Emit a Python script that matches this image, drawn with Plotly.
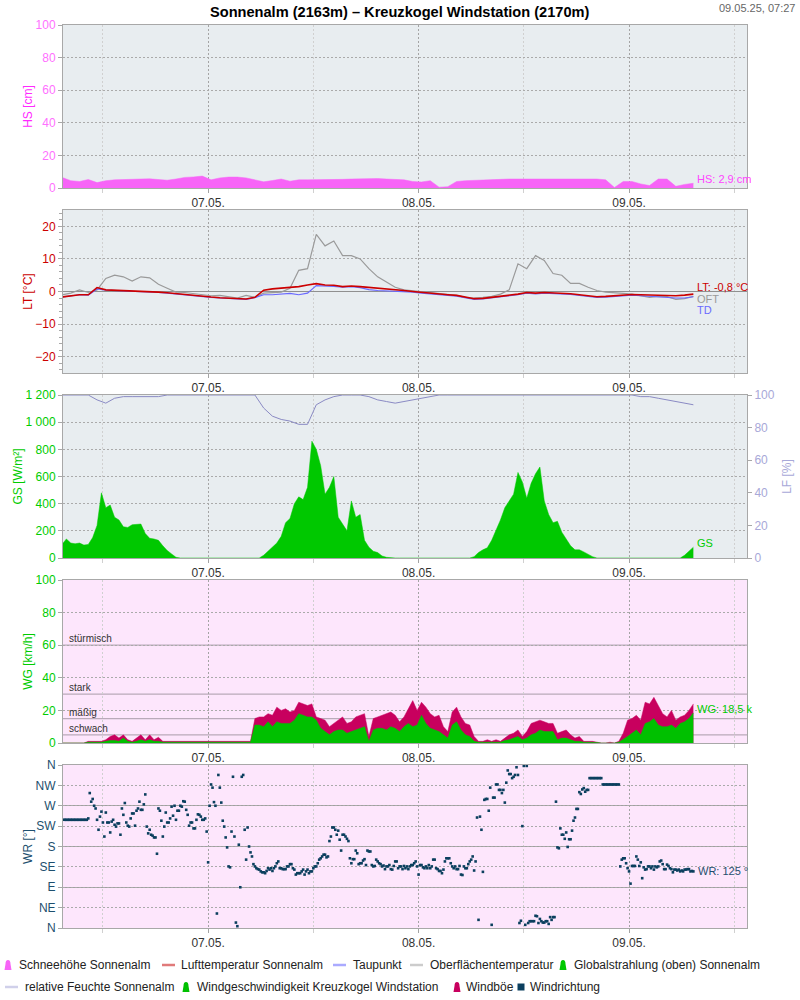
import pandas as pd
import plotly.graph_objects as go

FONT = "Liberation Sans, Arial, sans-serif"

# ---------------- time bases ----------------
t_hour = pd.date_range("2025-05-06 07:20", periods=73, freq="h")
t_half = pd.date_range("2025-05-06 07:20", periods=145, freq="30min")
t_wr = pd.date_range("2025-05-06 07:30", periods=432, freq="10min")

day_ticks = ["2025-05-07", "2025-05-08", "2025-05-09"]
day_labels = ["07.05.", "08.05.", "09.05."]
x_range = ["2025-05-06 07:27", "2025-05-09 13:27"]

# ---------------- data ----------------
hs = [6.5, 4.5, 4.0, 5.2, 3.3, 4.5, 5.0, 5.3, 5.2, 5.5,
      5.6, 5.3, 4.8, 5.5, 6.5, 6.8, 7.3, 5.0, 6.2, 6.7,
      6.7, 6.2, 5.0, 3.8, 4.6, 5.5, 4.2, 5.0, 5.0, 5.0,
      5.0, 5.0, 5.3, 5.5, 5.7, 6.0, 5.8, 5.5, 5.2, 5.0,
      4.0, 3.7, 4.5, 0.5, 0.8, 4.0, 4.5, 4.8, 5.0, 5.0,
      5.3, 5.5, 5.5, 5.5, 5.7, 5.7, 5.7, 5.7, 5.8, 5.5,
      5.6, 5.5, 5.0, 0.3, 4.0, 4.0, 2.5, 1.5, 5.5, 5.5,
      1.0, 2.2, 2.9]

lt = [-1.7, -1.3, -1.0, -1.0, 1.2, 0.5, 0.4, 0.3, 0.3, 0.2,
      0.0, -0.2, -0.4, -0.7, -1.0, -1.3, -1.5, -1.7, -1.9, -2.1,
      -2.3, -2.3, -1.8, 0.4, 0.8, 1.0, 1.2, 1.5, 2.0, 2.4,
      2.0, 1.9, 1.5, 1.7, 1.5, 1.3, 1.0, 0.8, 0.6, 0.3,
      0.0, -0.3, -0.6, -0.8, -1.0, -1.2, -1.8, -2.2, -2.1, -1.8,
      -1.5, -1.2, -0.8, -0.3, -0.5, -0.3, -0.4, -0.4, -0.7, -1.0,
      -1.4, -1.6, -1.5, -1.3, -1.1, -0.9, -1.0, -1.1, -1.3, -1.2,
      -1.3, -1.1, -0.8]

td = [-1.7, -1.3, -1.0, -1.1, 0.8, 0.4, 0.3, 0.2, 0.2, 0.1,
      -0.1, -0.3, -0.5, -0.8, -1.1, -1.4, -1.6, -1.8, -2.0, -2.2,
      -2.4, -2.4, -1.9, -1.0, -1.0, -0.9, -0.6, -1.0, -0.5, 1.8,
      1.8, 1.6, 1.3, 1.5, 1.2, 0.6, 0.3, 0.2, 0.0, -0.1,
      -0.2, -0.5, -0.8, -1.0, -1.2, -1.4, -2.0, -2.4, -2.3, -2.0,
      -1.7, -1.4, -1.0, -0.5, -0.7, -0.5, -0.6, -0.6, -0.9, -1.2,
      -1.6, -1.8, -1.7, -1.5, -1.3, -1.1, -1.3, -1.5, -1.6, -1.7,
      -2.0, -2.0, -1.6]

oft = [-1.0, -0.5, 0.5, -0.3, 0.5, 4.0, 5.0, 4.5, 3.2, 4.5,
       4.2, 2.2, 1.0, -0.2, -0.3, -0.7, -1.0, -1.3, -1.2, -1.5,
       -2.0, -1.2, -1.8, -0.5, -0.3, -0.2, 1.0, 6.5, 7.0, 17.5,
       14.0, 15.5, 11.0, 11.0, 10.0, 7.0, 4.5, 2.8, 1.3, 0.5,
       0.2, -0.2, -0.5, -0.8, -0.9, -1.2, -1.8, -2.0, -1.8, -1.5,
       -0.8, 0.5, 8.5, 7.0, 11.0, 9.5, 5.5, 5.0, 2.5, 2.5,
       1.3, 0.3, -0.2, -0.5, -0.6, -0.8, -1.2, -1.8, -1.5, -1.6,
       -2.4, -2.2, -1.5]

lf = [100, 100, 100, 100, 97, 95, 98, 99, 99, 99,
      99, 99, 100, 100, 100, 100, 100, 100, 100, 100,
      100, 100, 100, 92, 87, 85, 84, 82, 82, 94,
      97, 99, 100, 100, 100, 99, 97, 96, 95, 96,
      97, 98, 99, 100, 100, 100, 100, 100, 100, 100,
      100, 100, 100, 100, 100, 100, 100, 100, 100, 100,
      100, 100, 100, 100, 100, 100, 99, 99, 98, 97,
      96, 95, 94]

gs = [100, 140, 110, 105, 110, 95, 100, 150, 240, 480,
      370, 390, 300, 280, 230, 225, 245, 245, 250, 180,
      145, 140, 130, 90, 55, 30, 5,
      0, 0, 0, 0, 0, 0, 0, 0, 0, 0, 0, 0, 0, 0, 0, 0, 0, 0, 0,
      20, 50, 80, 110, 160, 260, 290, 400, 450, 430,
      520, 860, 800, 680, 470, 520, 600, 300, 250, 200,
      420, 300, 320, 130, 80, 50, 40, 15, 5,
      0, 0, 0, 0, 0, 0, 0, 0, 0, 0, 0, 0, 0, 0, 0, 0, 0, 0, 0,
      10, 40, 60, 75, 130, 200, 280, 370, 420, 470,
      630, 560, 440, 550, 620, 670, 420, 320, 260, 270,
      190, 140, 90, 60, 60, 45, 25, 10,
      0, 0, 0, 0, 0, 0, 0, 0, 0, 0, 0, 0, 0, 0, 0, 0, 0, 0, 0, 0,
      20, 50, 80]

wb = [0, 0, 0, 0, 0, 0,
      1, 1, 1, 1, 2, 4, 5, 3, 5, 2, 1, 3, 5, 2, 5, 2, 3.5, 1,
      1, 1, 1, 1, 1, 1, 1, 1, 1, 1, 1, 1, 1, 1, 1, 1, 1, 1, 1, 1,
      15, 16, 16, 18, 17, 22, 20, 21, 19, 20, 25, 24, 23, 24, 16, 15, 14,
      10, 12, 14, 16, 12, 13, 16, 17, 18, 4, 15, 16, 17, 18, 19, 17,
      13, 16, 21, 26, 20, 25, 22, 18, 16, 17, 10, 7, 19, 22, 16, 12, 11,
      4, 1, 1, 2, 1, 2, 1, 3, 5, 6, 8, 4, 7, 12, 13, 14, 13, 12, 12, 6,
      7, 8, 5, 3, 4, 1, 1, 1, 0.5, 0, 0, 0.5, 0, 1, 6, 14, 15, 17, 14,
      25, 24, 28, 23, 18, 16, 20, 14, 16, 17, 20, 24]

wg = [0, 0, 0, 0, 0, 0,
      0.5, 0.5, 0.5, 0.5, 1, 1.5, 1.5, 1, 3, 1, 0.5, 1, 2, 1, 2, 1, 1, 0.5,
      0.5, 0.5, 0.5, 0.5, 0.5, 0.5, 0.5, 0.5, 0.5, 0.5,
      0.5, 0.5, 0.5, 0.5, 0.5, 0.5, 0.5, 0.5, 0.5, 0.5,
      11, 11, 10, 13, 10, 13, 12, 12, 12, 14, 18, 17, 16, 16, 14, 9, 7,
      5, 7, 8, 8, 6, 7, 8, 9, 10, 1, 8, 9, 9, 8, 10, 9,
      7, 10, 12, 10, 11, 17, 12, 9, 8, 7, 5, 3, 11, 13, 8, 5, 4,
      1, 0.5, 0.5, 0.5, 0.5, 0.5, 0.5, 1.5, 2, 3, 4, 2, 3, 5, 6, 8, 7,
      7, 7, 2, 3, 3, 2, 1, 1, 0.5, 0.5, 0.5, 0.3, 0, 0, 0.3, 0, 0.5, 2,
      4, 6, 8, 5, 12, 13, 15, 11, 10, 10, 11, 9, 12, 13, 15, 18.5]

wr = [239, 239, 239, 239, 239, 239,
      239, 239, 239, 239, 239, 239,
      239, 239, 239, 239, 239, 242,
      298, 279, 285, 270, 264, 239,
      217, 246, 257, 233, 202, 255,
      233, 233, 211, 235, 239, 228,
      224, 231, 231, 206, 264, 250,
      276, 233, 226, 224, 242, 253,
      253, 226, 259, 264, 279, 261,
      261, 273, 295, 224, 209, 217,
      206, 204, 200, 200, 164, 264,
      259, 237, 202, 224, 255, 233,
      233, 242, 268, 248, 270, 239,
      259, 259, 270, 268, 280, 279,
      261, 250, 226, 233, 233, 220,
      220, 239, 251, 250, 246, 239,
      239, 242, 213, 145, 270, 317,
      310, 278, 270, 32, 338, 310,
      277, 237, 224, 200, 178, 136,
      134, 213, 334, 202, 12, 4,
      184, 90, 334, 338, 217, 151,
      222, 180, 167, 158, 141, 136,
      132, 130, 129, 125, 123, 123,
      121, 126, 132, 129, 132, 126,
      132, 136, 143, 147, 132, 132,
      130, 130, 130, 136, 136, 141,
      141, 132, 129, 118, 121, 121,
      121, 125, 129, 118, 125, 129,
      121, 125, 125, 132, 136, 136,
      143, 151, 154, 158, 162, 162,
      156, 158, 192, 202, 222, 222,
      217, 206, 215, 195, 171, 206,
      206, 202, 197, 192, 154, 143,
      152, 152, 171, 165, 141, 143,
      143, 149, 152, 139, 171, 169,
      169, 139, 136, 137, 151, 147,
      143, 141, 136, 138, 130, 136,
      136, 139, 130, 129, 137, 147,
      147, 132, 136, 136, 130, 137,
      132, 136, 130, 136, 139, 139,
      143, 147, 136, 118, 139, 139,
      134, 132, 136, 132, 139, 132,
      136, 151, 151, 132, 130, 126,
      126, 121, 129, 147, 154, 154,
      154, 143, 136, 132, 136, 130,
      130, 137, 118, 117, 136, 132,
      132, 141, 147, 151, 158, 127,
      147, 244, 18, 246, 217, 124,
      283, 285, 285, 259, 310, 7,
      288, 288, 317, 317, 305, 305,
      298, 305, 277, 321, 348, 340,
      340, 331, 334, 338, 355, 338,
      11, 16, 225, 358, 7, 358,
      11, 15, 15, 15, 15, 27,
      26, 11, 20, 15, 12, 12,
      15, 15, 9, 24, 18, 24,
      24, 279, 178, 176, 220, 206,
      206, 197, 211, 179, 196, 196,
      215, 237, 244, 263, 263, 300,
      296, 306, 309, 301, 305, 305,
      331, 331, 331, 331, 331, 331,
      331, 331, 331, 317, 317, 317,
      317, 317, 317, 317, 317, 317,
      317, 317, 317, 136, 151, 154,
      154, 143, 132, 125, 98, 137,
      137, 137, 158, 151, 137, 145,
      110, 134, 129, 130, 136, 136,
      132, 136, 129, 136, 134, 136,
      147, 149, 141, 130, 130, 140,
      137, 132, 130, 123, 129, 129,
      127, 129, 125, 127, 125, 129,
      129, 130, 130, 125, 126, 125]

wind_levels = [5, 15, 30, 60]
wind_level_names = ["schwach", "mäßig", "stark", "stürmisch"]
dir_vals = [0, 45, 90, 135, 180, 225, 270, 315, 360]
dir_names = ["N", "NE", "E", "SE", "S", "SW", "W", "NW", "N"]

assert len(hs) == len(lt) == len(td) == len(oft) == len(lf) == 73
assert len(gs) == len(wb) == len(wg) == 145, (len(gs), len(wb), len(wg))
assert len(wr) == 432, len(wr)

# ---------------- colours ----------------
C_HS = "#f764f7"
C_LT = "#cc0000"
C_TD = "#6a6aff"
C_OFT = "#9a9a9a"
C_GS = "#00c800"
C_LF = "#8a8ac4"
C_WG = "#00c000"
C_WB = "#c8005e"
C_WR = "#0b3f5e"
BG_GRAY = "#e8edf0"
BG_PINK = "#fde6fc"
DASH = "2px,2px"

fig = go.Figure()

# panel 1
fig.add_trace(go.Scatter(x=t_hour, y=hs, mode="lines", fill="tozeroy",
                         line=dict(color=C_HS, width=0.5), fillcolor=C_HS,
                         xaxis="x", yaxis="y", name="Schneehöhe Sonnenalm"))
# panel 2
fig.add_trace(go.Scatter(x=t_hour, y=oft, mode="lines", line=dict(color=C_OFT, width=1.2),
                         xaxis="x2", yaxis="y2", name="Oberflächentemperatur"))
fig.add_trace(go.Scatter(x=t_hour, y=td, mode="lines", line=dict(color=C_TD, width=1.2),
                         xaxis="x2", yaxis="y2", name="Taupunkt"))
fig.add_trace(go.Scatter(x=t_hour, y=lt, mode="lines", line=dict(color=C_LT, width=1.6),
                         xaxis="x2", yaxis="y2", name="Lufttemperatur Sonnenalm"))
# panel 3
fig.add_trace(go.Scatter(x=t_half, y=gs, mode="lines", fill="tozeroy",
                         line=dict(color=C_GS, width=0.5), fillcolor=C_GS,
                         xaxis="x3", yaxis="y3", name="Globalstrahlung (oben) Sonnenalm"))
fig.add_trace(go.Scatter(x=t_hour, y=lf, mode="lines", line=dict(color=C_LF, width=1),
                         xaxis="x3", yaxis="y6", name="relative Feuchte Sonnenalm"))
# panel 4
fig.add_trace(go.Scatter(x=t_half, y=wb, mode="lines", fill="tozeroy",
                         line=dict(color=C_WB, width=0.5), fillcolor=C_WB,
                         xaxis="x4", yaxis="y4", name="Windböe"))
fig.add_trace(go.Scatter(x=t_half, y=wg, mode="lines", fill="tozeroy",
                         line=dict(color=C_WG, width=0.5), fillcolor=C_WG,
                         xaxis="x4", yaxis="y4", name="Windgeschwindigkeit Kreuzkogel Windstation"))
# panel 5
fig.add_trace(go.Scatter(x=t_wr, y=wr, mode="markers",
                         marker=dict(symbol="square", size=2.6, color=C_WR, line=dict(width=0)),
                         xaxis="x5", yaxis="y5", name="Windrichtung"))

X_DOM = [63 / 800, 747 / 800]
Y_DOMS = [[0.812, 0.975], [0.627, 0.790], [0.442, 0.605], [0.257, 0.420], [0.072, 0.235]]

layout = dict(
    width=800, height=1000, autosize=False,
    margin=dict(l=0, r=0, t=0, b=0, pad=0, autoexpand=False),
    paper_bgcolor="white", plot_bgcolor=BG_GRAY,
    showlegend=False, hovermode=False,
    separators=", ",
    font=dict(family=FONT, size=12, color="#333"),
)

for i in range(1, 6):
    key = "xaxis" if i == 1 else f"xaxis{i}"
    layout[key] = dict(
        domain=X_DOM, range=x_range, type="date", anchor="y" if i == 1 else f"y{i}",
        tickmode="array", tickvals=day_ticks, ticktext=day_labels,
        showgrid=True, gridcolor="#a4a4a4", griddash=DASH, gridwidth=1,
        minor=dict(dtick=12 * 3600 * 1000, tick0="2025-05-06 00:00", showgrid=True,
                   gridcolor="#d0d0d0", griddash=DASH, gridwidth=1,
                   ticks="outside", ticklen=4, tickcolor="#d0d0d0"),
        showline=True, mirror=True, linecolor="#a8a8a8", linewidth=1,
        ticks="outside", ticklen=4, tickcolor="#a4a4a4",
        tickfont=dict(size=12, color="#333", family=FONT),
        zeroline=False, fixedrange=True, automargin=False,
    )

def yax(i, rng, title, tcol, lcol, **kw):
    d = dict(domain=Y_DOMS[i - 1], range=rng, anchor="x" if i == 1 else f"x{i}",
             showgrid=True, gridcolor="#aaaaaa", griddash=DASH, gridwidth=1,
             showline=True, mirror=True, linecolor="#a8a8a8", linewidth=1,
             ticks="outside", ticklen=4, tickcolor="#a8a8a8",
             tickfont=dict(size=12, color=lcol, family=FONT),
             title=dict(text=title, font=dict(size=12, color=tcol, family=FONT), standoff=0),
             zeroline=False, fixedrange=True, automargin=False)
    d.update(kw)
    return d

layout["yaxis"] = yax(1, [0, 100], "HS [cm]", "#ff2aff", "#ff70ff", dtick=20)
layout["yaxis2"] = yax(2, [-25, 25], "LT [°C]", C_LT, C_LT, dtick=10,
                       zeroline=True, zerolinecolor="#909090", zerolinewidth=1,
                       minor=dict(dtick=2, ticks="outside", ticklen=3, tickcolor="#a8a8a8"))
layout["yaxis3"] = yax(3, [0, 1200], "GS [W/m²]", "#00cc00", "#00cc00", dtick=200, tickformat=",")
layout["yaxis6"] = dict(overlaying="y3", side="right", anchor="x3", range=[0, 100], dtick=20,
                        showgrid=False, showline=True, linecolor="#a8a8a8", ticks="outside",
                        ticklen=4, tickcolor="#a8a8a8", zeroline=False, fixedrange=True,
                        automargin=False,
                        tickfont=dict(size=12, color="#a8a8d8", family=FONT),
                        title=dict(text="LF [%]", font=dict(size=12, color="#a8a8d8", family=FONT),
                                   standoff=8))
layout["yaxis4"] = yax(4, [0, 100], "WG [km/h]", "#00cc00", "#00cc00", dtick=20)
layout["yaxis5"] = yax(5, [0, 360], "WR [°]", "#1d4f6e", "#1d4f6e",
                       tickmode="array", tickvals=dir_vals, ticktext=dir_names,
                       minor=dict(dtick=90, tick0=0, showgrid=True, gridcolor="#a0a0a0",
                                  griddash="solid", gridwidth=1))

fig.update_layout(**layout)

shapes = []
# pink backgrounds for wind panels
for i in (4, 5):
    shapes.append(dict(type="rect", xref=f"x{i} domain", yref=f"y{i} domain",
                       x0=0, x1=1, y0=0, y1=1, fillcolor=BG_PINK, line=dict(width=0),
                       layer="below"))
# wind strength reference lines
for lv in wind_levels:
    shapes.append(dict(type="line", xref="x4 domain", yref="y4", x0=0, x1=1, y0=lv, y1=lv,
                       line=dict(color="#b9aab9", width=1.2), layer="below"))

annotations = []
for lv, nm in zip(wind_levels, wind_level_names):
    annotations.append(dict(text=nm, xref="paper", yref="y4", x=67 / 800, y=lv,
                            xanchor="left", yanchor="bottom", showarrow=False, yshift=-1,
                            font=dict(size=10, color="#333", family=FONT)))

def fmt(v):
    return f"{v:.1f}".replace(".", ",")

end_h = t_hour[-1]
annotations += [
    dict(text=f"HS: {fmt(hs[-1])} cm", xref="x", yref="y", x=end_h, y=hs[-1],
         xanchor="left", yanchor="middle", xshift=2, yshift=4, showarrow=False,
         font=dict(size=11, color="#ff44ff", family=FONT)),
    dict(text=f"LT: {fmt(lt[-1])} °C", xref="x2", yref="y2", x=end_h, y=lt[-1],
         xanchor="left", yanchor="middle", xshift=2, yshift=7, showarrow=False,
         font=dict(size=11, color=C_LT, family=FONT)),
    dict(text="OFT", xref="x2", yref="y2", x=end_h, y=oft[-1],
         xanchor="left", yanchor="middle", xshift=2, yshift=-3, showarrow=False,
         font=dict(size=11, color=C_OFT, family=FONT)),
    dict(text="TD", xref="x2", yref="y2", x=end_h, y=td[-1],
         xanchor="left", yanchor="middle", xshift=2, yshift=-13, showarrow=False,
         font=dict(size=11, color=C_TD, family=FONT)),
    dict(text="GS", xref="x3", yref="y3", x=t_half[-1], y=gs[-1],
         xanchor="left", yanchor="middle", xshift=2, yshift=4, showarrow=False,
         font=dict(size=11, color="#00cc00", family=FONT)),
    dict(text=f"WG: {fmt(wg[-1])} k", xref="x4", yref="y4", x=t_half[-1], y=wg[-1],
         xanchor="left", yanchor="middle", xshift=2, yshift=4, showarrow=False,
         font=dict(size=11, color="#00cc00", family=FONT)),
    dict(text=f"WR: {wr[-1]} °", xref="x5", yref="y5", x=t_wr[-1], y=wr[-1],
         xanchor="left", yanchor="middle", xshift=3, yshift=0, showarrow=False,
         font=dict(size=11, color="#1d4f6e", family=FONT)),
]

# title + timestamp
annotations.append(dict(text="<b>Sonnenalm (2163m) – Kreuzkogel Windstation (2170m)</b>",
                        xref="paper", yref="paper", x=400 / 800, y=1 - 12 / 1000,
                        xanchor="center", yanchor="middle", showarrow=False,
                        font=dict(size=14.6, color="#000", family=FONT)))
annotations.append(dict(text="09.05.25, 07:27", xref="paper", yref="paper",
                        x=797 / 800, y=1 - 8 / 1000, xanchor="right", yanchor="middle",
                        showarrow=False, font=dict(size=11, color="#666", family=FONT)))

# manual legend
legend_items = [
    ("bell", C_HS, "Schneehöhe Sonnenalm", 8, 17, 965),
    ("line", "#e07a7a", "Lufttemperatur Sonnenalm", 162, 179, 965),
    ("line", "#aaaaff", "Taupunkt", 333, 351, 965),
    ("line", "#cccccc", "Oberflächentemperatur", 410, 428, 965),
    ("bell", C_GS, "Globalstrahlung (oben) Sonnenalm", 563, 572, 965),
    ("line", "#d0d0ea", "relative Feuchte Sonnenalm", 5, 23, 987),
    ("bell", C_WG, "Windgeschwindigkeit Kreuzkogel Windstation", 186, 195, 987),
    ("bell", C_WB, "Windböe", 457, 464, 987),
    ("square", C_WR, "Windrichtung", 521, 528, 987),
]
for kind, col, txt, sx, tx, py in legend_items:
    yp = 1 - py / 1000
    if kind == "bell":
        x0, x1 = (sx - 3.5) / 800, (sx + 3.5) / 800
        yb, yt = 1 - (py + 5) / 1000, 1 - (py - 5) / 1000
        ym = 1 - (py - 1) / 1000
        xm0, xm1 = (sx - 2.5) / 800, (sx + 2.5) / 800
        path = (f"M{x0},{yb} L{xm0},{ym} Q{xm0},{yt} {sx/800},{yt} "
                f"Q{xm1},{yt} {xm1},{ym} L{x1},{yb} Z")
        shapes.append(dict(type="path", xref="paper", yref="paper", path=path,
                           fillcolor=col, line=dict(width=0), layer="above"))
    elif kind == "line":
        shapes.append(dict(type="line", xref="paper", yref="paper", x0=sx / 800,
                           x1=(sx + 13) / 800, y0=yp, y1=yp, line=dict(color=col, width=2.5),
                           layer="above"))
    else:
        shapes.append(dict(type="rect", xref="paper", yref="paper",
                           x0=(sx - 3.5) / 800, x1=(sx + 3.5) / 800,
                           y0=yp - 3.5 / 1000, y1=yp + 3.5 / 1000,
                           fillcolor=col, line=dict(width=0), layer="above"))
    annotations.append(dict(text=txt, xref="paper", yref="paper", x=tx / 800, y=yp,
                            xanchor="left", yanchor="middle", showarrow=False,
                            font=dict(size=12, color="#222", family=FONT)))

fig.update_layout(shapes=shapes, annotations=annotations)

fig.write_html("out.html", config={"displayModeBar": False},
               post_script="document.body.style.margin='0';")
